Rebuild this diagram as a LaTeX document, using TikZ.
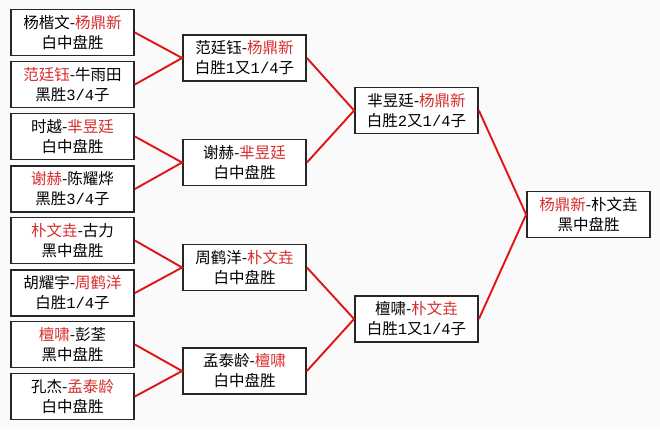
\documentclass[tikz,border=0pt]{standalone}
\usepackage{fontspec}
\setmainfont{Noto Sans CJK SC}
\newfontfamily\monodig{Liberation Mono}
\definecolor{linered}{RGB}{225,20,20}
\definecolor{textred}{RGB}{215,45,45}
\newcommand{\R}[1]{\textcolor{textred}{#1}}
\newcommand{\D}[1]{{\monodig #1}}
\begin{document}
\begin{tikzpicture}[x=1pt,y=-1pt,
  game/.style={draw=black!85,line width=1.8pt,fill=white,minimum width=123pt,minimum height=46pt,
    inner sep=0pt,align=center,font=\fontsize{15.5}{20}\selectfont},
  link/.style={draw=linered,line width=1.9pt}]
\fill[white!98!black] (0,0) rectangle (660,429);
\useasboundingbox (0,0) rectangle (660,429);
% round 1
\node[game] (l1) at (72.5,32.5) {杨楷文-\R{杨鼎新}\\白中盘胜};
\node[game] (l2) at (72.5,84.5) {\R{范廷钰}-牛雨田\\黑胜\D{3/4}子};
\node[game] (l3) at (72.5,136.5) {时越-\R{芈昱廷}\\白中盘胜};
\node[game] (l4) at (72.5,189) {\R{谢赫}-陈耀烨\\黑胜\D{3/4}子};
\node[game] (l5) at (72.5,240.5) {\R{朴文垚}-古力\\黑中盘胜};
\node[game] (l6) at (72.5,293) {胡耀宇-\R{周鹤洋}\\白胜\D{1/4}子};
\node[game] (l7) at (72.5,344.5) {\R{檀啸}-彭荃\\黑中盘胜};
\node[game] (l8) at (72.5,396.5) {孔杰-\R{孟泰龄}\\白中盘胜};
% round 2
\node[game] (r1) at (244.5,58) {范廷钰-\R{杨鼎新}\\白胜\D{1}又\D{1/4}子};
\node[game] (r2) at (244.5,162.5) {谢赫-\R{芈昱廷}\\白中盘胜};
\node[game] (r3) at (244.5,267.5) {周鹤洋-\R{朴文垚}\\白中盘胜};
\node[game] (r4) at (244.5,371) {孟泰龄-\R{檀啸}\\白中盘胜};
% semifinal
\node[game] (s1) at (416.5,110.5) {芈昱廷-\R{杨鼎新}\\白胜\D{2}又\D{1/4}子};
\node[game] (s2) at (416.5,319) {檀啸-\R{朴文垚}\\白胜\D{1}又\D{1/4}子};
% final
\node[game] (f) at (588.5,214.5) {\R{杨鼎新}-朴文垚\\黑中盘胜};
% links
\draw[link] (l1.east) -- (r1.west) -- (l2.east);
\draw[link] (l3.east) -- (r2.west) -- (l4.east);
\draw[link] (l5.east) -- (r3.west) -- (l6.east);
\draw[link] (l7.east) -- (r4.west) -- (l8.east);
\draw[link] (r1.east) -- (s1.west) -- (r2.east);
\draw[link] (r3.east) -- (s2.west) -- (r4.east);
\draw[link] (s1.east) -- (f.west) -- (s2.east);
\end{tikzpicture}
\end{document}
